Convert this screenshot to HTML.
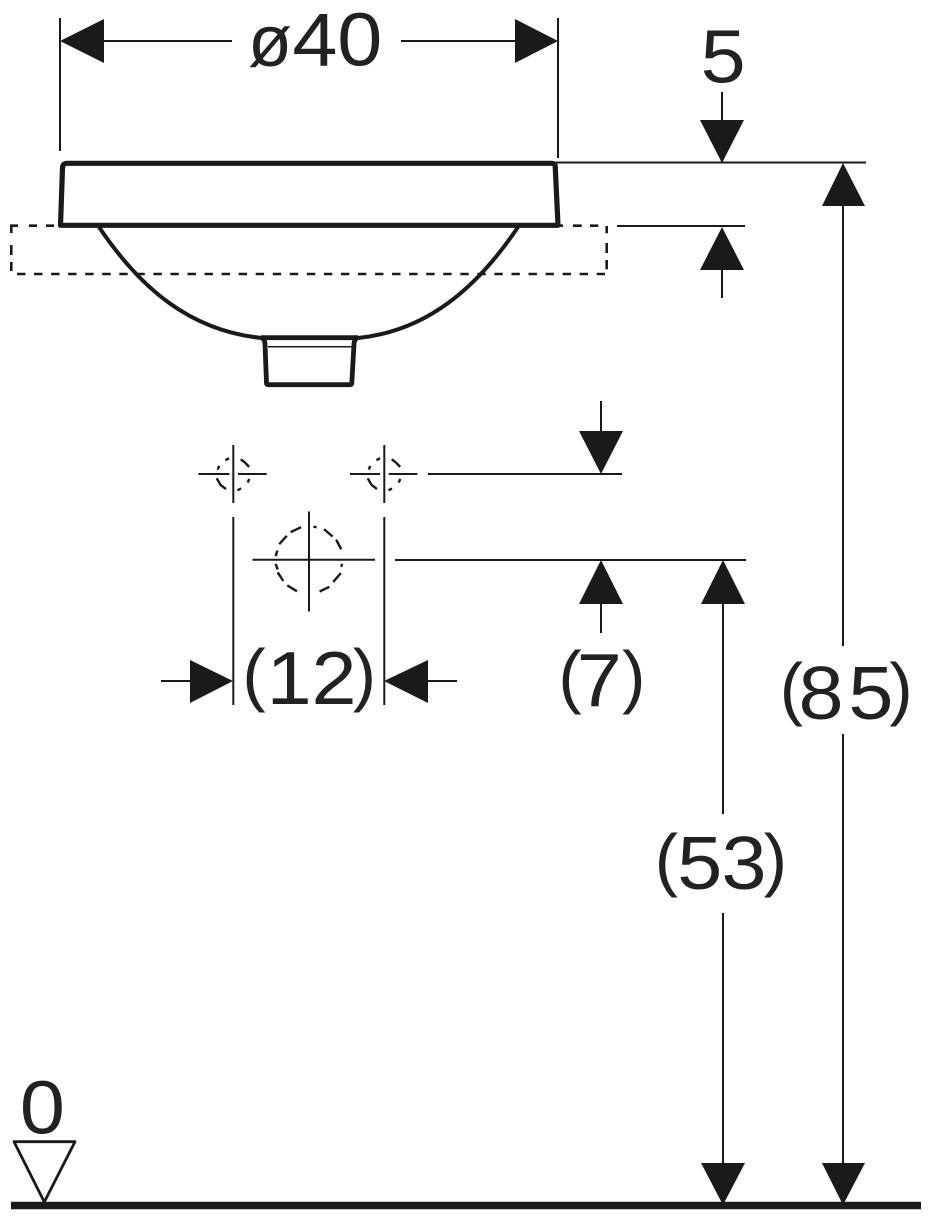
<!DOCTYPE html>
<html><head><meta charset="utf-8"><style>
html,body{margin:0;padding:0;background:#fff}
svg{display:block}
text{font-family:"Liberation Sans",sans-serif;fill:#222;font-size:75px}
text.p{font-size:70px}
</style></head><body>
<svg width="931" height="1220" viewBox="0 0 931 1220" xmlns="http://www.w3.org/2000/svg">
<g stroke="#1a1a1a" stroke-width="2" fill="none">
<line x1="60" y1="18" x2="60" y2="151"/>
<line x1="558" y1="18" x2="558" y2="158"/>
<line x1="100" y1="41" x2="232" y2="41"/>
<line x1="401" y1="41" x2="520" y2="41"/>
<line x1="556" y1="162.500" x2="866" y2="162.500"/>
<line x1="722" y1="92" x2="722" y2="125"/>
<line x1="617" y1="226" x2="745" y2="226"/>
<line x1="722" y1="265" x2="722" y2="298"/>
<line x1="843" y1="200" x2="843" y2="646"/>
<line x1="843" y1="734" x2="843" y2="1170"/>
<line x1="723" y1="598" x2="723" y2="814"/>
<line x1="723" y1="913" x2="723" y2="1170"/>
<line x1="395" y1="560" x2="746" y2="560"/>
<line x1="428" y1="474" x2="622" y2="474"/>
<line x1="601" y1="401" x2="601" y2="436"/>
<line x1="601" y1="598" x2="601" y2="633"/>
<line x1="233.300" y1="517" x2="233.300" y2="705"/>
<line x1="384.300" y1="517" x2="384.300" y2="705"/>
<line x1="161" y1="681" x2="195" y2="681"/>
<line x1="422" y1="681" x2="457" y2="681"/>
<line x1="233.300" y1="445" x2="233.300" y2="503"/>
<line x1="198.500" y1="474" x2="229.300" y2="474"/>
<line x1="238" y1="474" x2="266.700" y2="474"/>
<line x1="384.300" y1="445" x2="384.300" y2="503"/>
<line x1="350" y1="474" x2="380" y2="474"/>
<line x1="388.700" y1="474" x2="417.300" y2="474"/>
<line x1="309" y1="511.500" x2="309" y2="611.500"/>
<line x1="252.500" y1="559.800" x2="375" y2="559.800"/>
</g>
<g stroke="#1a1a1a" stroke-width="2.400" fill="none" stroke-linecap="square">
<path d="M241.700 460L245 462.600L248.300 466M217.300 479.300L220.500 484.800L225 488.300M226.500 459.600L228 458.800M218.200 468.500L218.800 467M238.500 489.800L240 489M248.200 481.500L248.800 480"/>
<path d="M392.700 460L396 462.600L399.300 466M368.300 479.300L371.500 484.800L376 488.300M377.500 459.600L379 458.800M369.200 468.500L369.800 467M389.500 489.800L391 489M399.200 481.500L399.800 480"/>
<path d="M291.700 531.700L300 527.700M280 543.300L286 536.700M276 555L277 551.700M276 565L277.300 568.300M278.300 573.300L282.700 580M288.300 586L296 590.700M320.700 591L328.300 587.300M334 581L340 574M341.600 565.800L341.800 565M340.700 548.300L336.700 540.700M331.700 535.700L325 530M314.600 526.900L315.400 527.100"/>
</g>
<g stroke="#1a1a1a" stroke-width="2.600" fill="none">
<path d="M18 225.700H11.300V233M11.300 245V255M11.300 262V271M29 225.700H37M46 225.700H54M558 225.700H563M573 225.700H581.700M590 225.700H598.300M606.700 226V233.300M606.700 243V253M606.700 260V269.300"/>
<line x1="17" y1="274" x2="605" y2="274" stroke-dasharray="8.400 8.650"/>
</g>
<g fill="#1a1a1a">
<polygon points="60,41 104,19 104,63"/>
<polygon points="558,41 515,19 515,63"/>
<polygon points="722,163 700,120 744,120"/>
<polygon points="722,227 700,270 744,270"/>
<polygon points="843,163 822,206 865,206"/>
<polygon points="843,1205 822,1163 865,1163"/>
<polygon points="723,560 701,604 745,604"/>
<polygon points="723,1205 701,1163 745,1163"/>
<polygon points="601,474 579,431 623,431"/>
<polygon points="601,560 579,604 623,604"/>
<polygon points="233,681 190,660 190,703"/>
<polygon points="384,681 428,660 428,703"/>
</g>
<g stroke="#1a1a1a" fill="none" stroke-linejoin="round">
<path d="M67 163.300H552Q555 163.300 555.200 166L558 225.300H60.500L62.500 168Q62.700 163.300 67 163.300Z" stroke-width="5.200"/>
<path d="M99 227C140 288 190 331 262 338M518 227C477 288 427 331 358 338" stroke-width="4"/>
<path d="M261 337.700H358" stroke-width="4.800"/>
<path d="M262 338Q265 340 265 344L266.500 383Q266.500 384.700 268 384.700H350Q351.700 384.700 351.800 383L354 344Q354 340 357 338" stroke-width="4.800"/>
<path d="M268 346.800H352" stroke-width="1.500"/>
<path d="M14 1141.700H75L44.300 1202Z" stroke-width="2.800"/>
<line x1="11" y1="1205.500" x2="921" y2="1205.500" stroke-width="7.500"/>
</g>
<text x="248" y="66" style="font-size:72px">ø</text>
<g transform="scale(1.08 1)">
<text x="270.700 312.300" y="65.500">40</text>
<text x="648.700" y="82.500">5</text>
<text x="246.900 288.400" y="704">12</text>
<text x="534" y="706">7</text>
<text x="739.400 785.500" y="719">85</text>
<text x="627.100 668.100" y="889">53</text>
<text x="18.400" y="1133.500">0</text>
</g>
<text class="p" x="242.400" y="698">(</text><text class="p" x="352.800" y="698">)</text>
<text class="p" x="558.400" y="700">(</text><text class="p" x="622.100" y="700">)</text>
<text class="p" x="779.700" y="712">(</text><text class="p" x="889.400" y="712">)</text>
<text class="p" x="654.700" y="883">(</text><text class="p" x="763.800" y="883">)</text>
</svg>
</body></html>
